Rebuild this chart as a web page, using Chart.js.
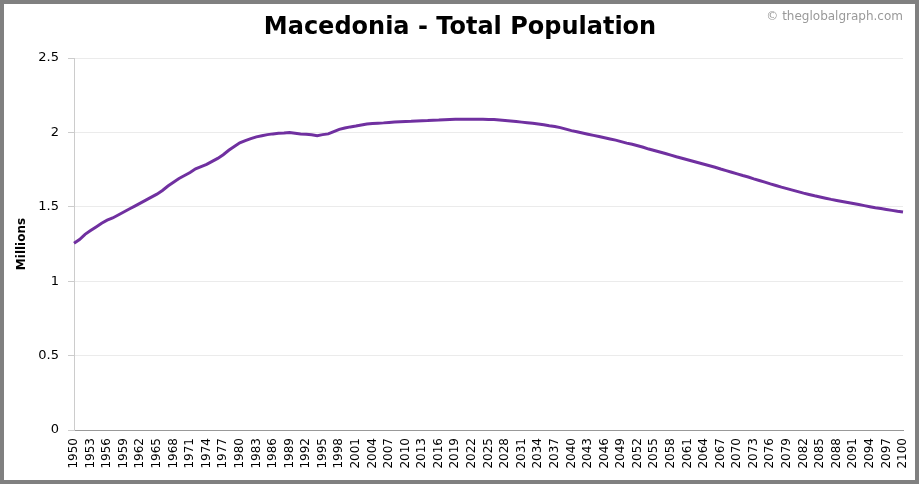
<!DOCTYPE html>
<html>
<head>
<meta charset="utf-8">
<script src="https://cdn.jsdelivr.net/npm/chart.js@4"></script>
<style>
    html, body { margin: 0; padding: 0; background: #fff; }
    #frame {
        width: 919px;
        height: 484px;
        box-sizing: border-box;
        border: 4px solid #808080;
        background: #fff;
    }
    #pop-chart { display: block; }
</style>
</head>
<body>
<div id="frame">
    <canvas id="pop-chart" width="911" height="476"></canvas>
</div>
<script>
/**
 * Macedonia total population line chart, 1950 - 2100
 */

const chartTitle = 'Macedonia - Total Population';
const watermark = '\u00A9 theglobalgraph.com';
const yAxisTitle = 'Millions';

// one category per year
const firstYear = 1950;
const lastYear = 2100;
const years = Array.from({ length: lastYear - firstYear + 1 }, (_, i) => String(firstYear + i));

// population in millions
const population = [
    1.255, 1.28, 1.315, 1.34, 1.365, 1.39, 1.41, 1.425, 1.445, 1.465,   // 1950-1959
    1.485, 1.505, 1.525, 1.545, 1.565, 1.585, 1.61, 1.64, 1.665, 1.69,  // 1960-1969
    1.71, 1.73, 1.755, 1.77, 1.785, 1.805, 1.825, 1.85, 1.88, 1.905,    // 1970-1979
    1.93, 1.945, 1.958, 1.97, 1.978, 1.985, 1.99, 1.994, 1.996, 2.0,    // 1980-1989
    1.995, 1.99, 1.988, 1.984, 1.978, 1.985, 1.99, 2.005, 2.02, 2.03,   // 1990-1999
    2.037, 2.043, 2.05, 2.056, 2.06, 2.062, 2.064, 2.067, 2.07, 2.072,  // 2000-2009
    2.074, 2.075, 2.077, 2.079, 2.08, 2.082, 2.083, 2.085, 2.087, 2.088, // 2010-2019
    2.088, 2.088, 2.088, 2.088, 2.088, 2.087, 2.086, 2.083, 2.08, 2.077, // 2020-2029
    2.073, 2.069, 2.065, 2.061, 2.056, 2.051, 2.045, 2.04, 2.032, 2.022, // 2030-2039
    2.012, 2.004, 1.996, 1.988, 1.98, 1.972, 1.964, 1.956, 1.948, 1.938, // 2040-2049
    1.928, 1.92, 1.91, 1.9, 1.888, 1.878, 1.868, 1.858, 1.847, 1.836,   // 2050-2059
    1.826, 1.816, 1.806, 1.796, 1.786, 1.776, 1.766, 1.754, 1.743, 1.732, // 2060-2069
    1.721, 1.71, 1.70, 1.688, 1.677, 1.666, 1.654, 1.643, 1.632, 1.622, // 2070-2079
    1.612, 1.602, 1.592, 1.583, 1.574, 1.566, 1.558, 1.55, 1.543, 1.536, // 2080-2089
    1.529, 1.522, 1.515, 1.508, 1.501, 1.494, 1.488, 1.482, 1.476, 1.47, // 2090-2099
    1.465                                                                // 2100
];

// y axis ticks as printed
const yTickLabels = ['0', '0.5', '1', '1.5', '2', '2.5'];
const yMax = 2.5;
const yStep = 0.5;
// an x label on every third year
const xLabelEvery = 3;

const FONT = "'DejaVu Sans', Verdana, sans-serif";

/**
 * Draws the title and the watermark in the space above the plot
 */
const headerPlugin = {
    id: 'header',
    afterDraw(chart) {
        const ctx = chart.ctx;
        ctx.save();
        ctx.fillStyle = '#000';
        ctx.font = 'bold 24px ' + FONT;
        ctx.textAlign = 'center';
        ctx.textBaseline = 'middle';
        ctx.fillText(chartTitle, 456, 24);

        ctx.fillStyle = '#999';
        ctx.font = '12px ' + FONT;
        ctx.textAlign = 'right';
        ctx.fillText(watermark, 899, 13);
        ctx.restore();
    }
};

function renderChart() {
    const ctx = document.getElementById('pop-chart').getContext('2d');

    new Chart(ctx, {
        type: 'line',
        data: {
            labels: years,
            datasets: [{
                label: 'Population',
                data: population,
                borderColor: '#7030a0',
                backgroundColor: '#7030a0',
                borderWidth: 3,
                pointRadius: 0,
                tension: 0,
                fill: false
            }]
        },
        options: {
            responsive: false,
            animation: false,
            layout: {
                padding: { left: 11, right: 12, top: 54, bottom: 0 }
            },
            plugins: {
                legend: { display: false },
                title: { display: false },
                tooltip: { enabled: false }
            },
            scales: {
                x: {
                    grid: { display: false, drawTicks: false },
                    border: { display: true, color: '#999', width: 1 },
                    ticks: {
                        autoSkip: false,
                        minRotation: 90,
                        maxRotation: 90,
                        padding: 8,
                        color: '#000',
                        font: { family: FONT, size: 12 },
                        callback: function(value, index) {
                            return index % xLabelEvery === 0 ? years[index] : '';
                        }
                    },
                    afterFit: function(scale) {
                        scale.height = 50;
                        // let the end labels sit over the layout padding
                        scale.paddingLeft = 0;
                        scale.paddingRight = 0;
                    }
                },
                y: {
                    min: 0,
                    max: yMax,
                    grid: {
                        color: '#ebebeb',
                        tickColor: '#ccc',
                        tickLength: 6,
                        drawTicks: true
                    },
                    border: { display: true, color: '#ccc', width: 1 },
                    ticks: {
                        stepSize: yStep,
                        padding: 9,
                        color: '#000',
                        font: { family: FONT, size: 13 },
                        callback: function(value) {
                            return yTickLabels[Math.round(value / yStep)];
                        }
                    },
                    title: {
                        display: true,
                        text: yAxisTitle,
                        color: '#000',
                        font: { family: FONT, size: 12, weight: 'bold' },
                        padding: { top: 0, bottom: 0 }
                    },
                    afterFit: function(scale) {
                        scale.width = 59;
                    }
                }
            }
        },
        plugins: [headerPlugin]
    });
}

document.addEventListener('DOMContentLoaded', renderChart);
</script>
</body>
</html>
